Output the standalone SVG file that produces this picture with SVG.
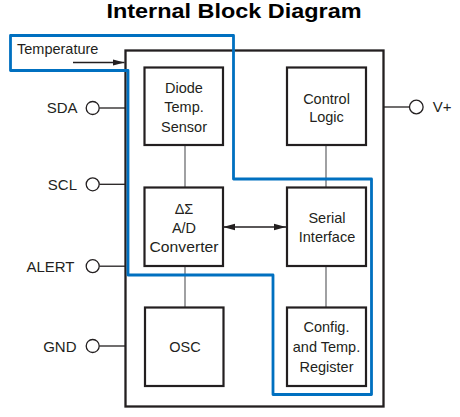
<svg xmlns="http://www.w3.org/2000/svg" width="460" height="417" viewBox="0 0 460 417">
<defs>
<marker id="ah" viewBox="0 0 12 8" refX="12" refY="4" markerWidth="12" markerHeight="8" markerUnits="userSpaceOnUse" orient="auto-start-reverse">
<path d="M0,0.8 L12,4 L0,7.2 Z" fill="#231f20"/>
</marker>
<style>
text{font-family:"Liberation Sans",Arial,sans-serif;fill:#231f20}
.t{font-size:14.5px;text-anchor:middle}
.p{font-size:15px;text-anchor:end}
.box{fill:#fff;stroke:#231f20;stroke-width:2.2}
.pin{fill:#fff;stroke:#231f20;stroke-width:1.3}
.pl{stroke:#231f20;stroke-width:1.3;fill:none}
.cn{stroke:#6d6e71;stroke-width:1.3;fill:none}
</style>
</defs>
<rect width="460" height="417" fill="#fff"/>
<text x="234" y="18" style="font-size:21px;font-weight:bold;text-anchor:middle;fill:#000" textLength="255" lengthAdjust="spacingAndGlyphs">Internal Block Diagram</text>
<g id="outer"><rect x="125.5" y="50.5" width="258" height="356" fill="none" stroke="#231f20" stroke-width="2.3"/></g>
<g id="connectors">
<line class="cn" x1="185" y1="145" x2="185" y2="188"/>
<line class="cn" x1="185" y1="266" x2="185" y2="307"/>
<line class="cn" x1="326" y1="145" x2="326" y2="188"/>
<line class="cn" x1="326" y1="266" x2="326" y2="307"/>
<line stroke="#231f20" stroke-width="1.3" x1="223" y1="227" x2="286" y2="227" marker-start="url(#ah)" marker-end="url(#ah)"/>
<line stroke="#231f20" stroke-width="1.3" x1="73" y1="62.5" x2="124.5" y2="62.5" marker-end="url(#ah)"/>
<line class="pl" x1="99.3" y1="108" x2="125" y2="108"/>
<line class="pl" x1="99.3" y1="184.3" x2="125" y2="184.3"/>
<line class="pl" x1="99.3" y1="266.2" x2="125" y2="266.2"/>
<line class="pl" x1="99.3" y1="346" x2="125" y2="346"/>
<line class="pl" x1="384" y1="107" x2="409.6" y2="107"/>
</g>
<g id="diode"><rect class="box" x="144.5" y="67.5" width="78.5" height="77.5"/>
<text class="t" x="184" y="93.3">Diode</text><text class="t" x="184" y="112">Temp.</text><text class="t" x="184" y="131.5">Sensor</text></g>
<g id="control"><rect class="box" x="287" y="67.5" width="79" height="77.5"/>
<text class="t" x="326.5" y="103.5">Control</text><text class="t" x="326.5" y="121.5">Logic</text></g>
<g id="adc"><rect class="box" x="144.5" y="187.5" width="78.5" height="78.5"/>
<text class="t" x="184" y="213.5">ΔΣ</text><text class="t" x="184" y="233">A/D</text><text class="t" x="184" y="252" textLength="69" lengthAdjust="spacingAndGlyphs">Converter</text></g>
<g id="serial"><rect class="box" x="287" y="187.5" width="79" height="78.5"/>
<text class="t" x="327" y="223.3">Serial</text><text class="t" x="327" y="241.7">Interface</text></g>
<g id="osc"><rect class="box" x="145" y="307.5" width="78.5" height="78.5"/>
<text class="t" x="185" y="351.7">OSC</text></g>
<g id="config"><rect class="box" x="287" y="307.5" width="79" height="78.5"/>
<text class="t" x="326.5" y="331.7">Config.</text><text class="t" x="326.5" y="351.7">and Temp.</text><text class="t" x="326.5" y="371.7">Register</text></g>
<g id="pin-sda"><circle class="pin" cx="92.7" cy="108" r="6.5"/><text class="p" x="77.5" y="113.3">SDA</text></g>
<g id="pin-scl"><circle class="pin" cx="92.7" cy="184.3" r="6.5"/><text class="p" x="77" y="190">SCL</text></g>
<g id="pin-alert"><circle class="pin" cx="92.7" cy="266.2" r="6.5"/><text class="p" x="74.5" y="271.7">ALERT</text></g>
<g id="pin-gnd"><circle class="pin" cx="92.7" cy="346" r="6.5"/><text class="p" x="76.5" y="351.7">GND</text></g>
<g id="pin-vplus"><circle class="pin" cx="416.3" cy="107" r="6.8"/><text x="432.7" y="111.7" style="font-size:15px">V+</text></g>
<g id="temperature"><text x="17" y="54" style="font-size:14.5px">Temperature</text></g>
<g id="highlight"><path d="M10.5,35.5 H233.5 V179 H371.5 V394.5 H273 V275 H128 V70.5 H10.5 Z" fill="none" stroke="#0070c0" stroke-width="2.8" stroke-linejoin="round"/></g>
</svg>
